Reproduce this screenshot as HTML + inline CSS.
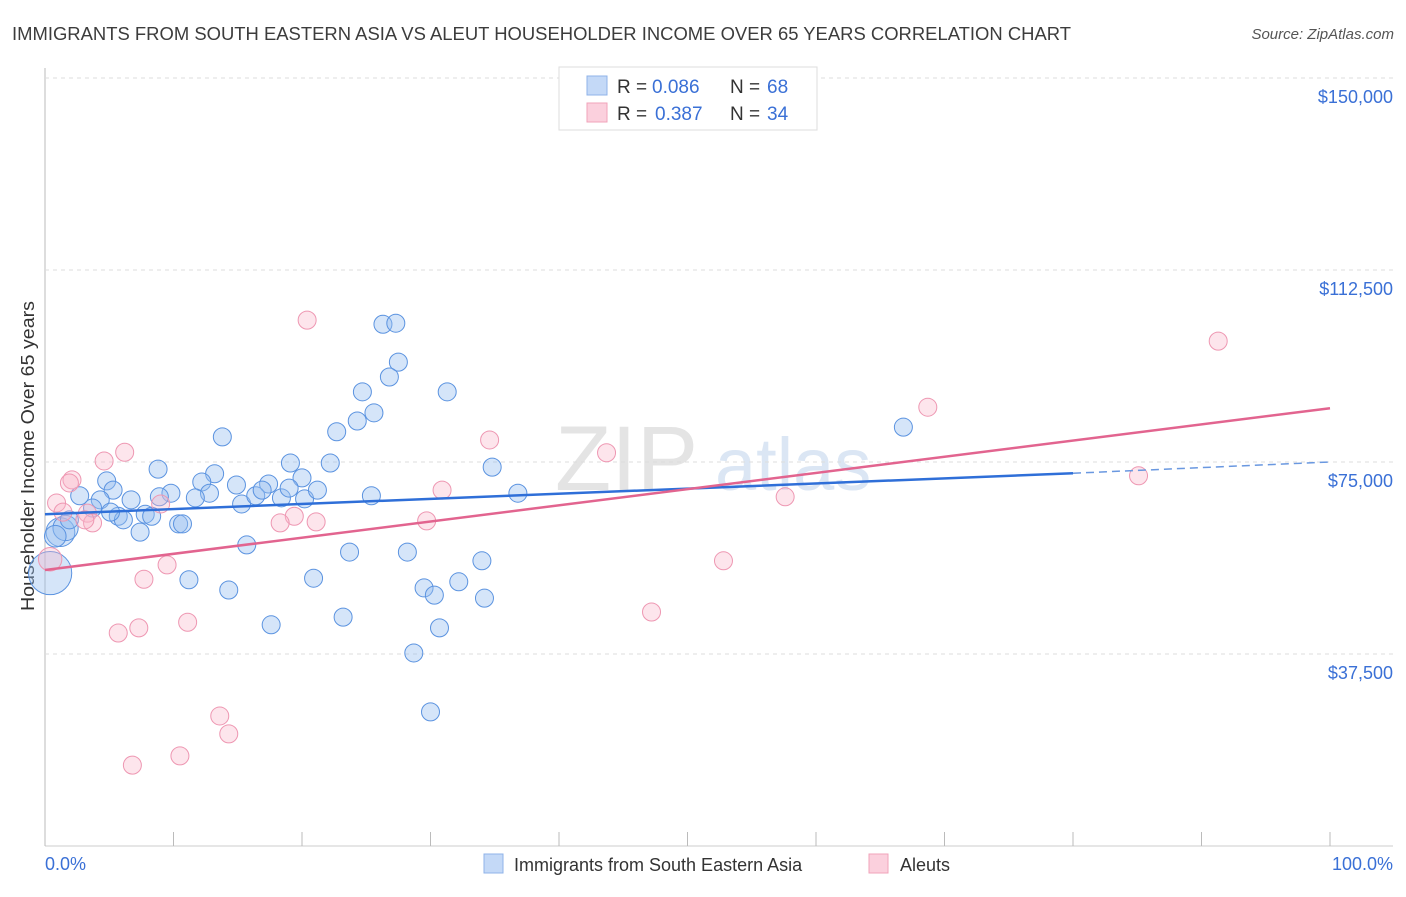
<!DOCTYPE html>
<html><head><meta charset="utf-8"><style>
body{margin:0;background:#fff;font-family:"Liberation Sans",sans-serif}
svg text{font-family:"Liberation Sans",sans-serif}
</style></head><body>
<svg id="c" width="1406" height="892">
<text x="12" y="40" font-size="18" textLength="1059" lengthAdjust="spacingAndGlyphs" fill="#3c3c3c">IMMIGRANTS FROM SOUTH EASTERN ASIA VS ALEUT HOUSEHOLDER INCOME OVER 65 YEARS CORRELATION CHART</text>
<text x="1394" y="39" font-size="15" font-style="italic" fill="#555" text-anchor="end">Source: ZipAtlas.com</text>
<g><text x="555" y="490" font-size="92" fill="#e4e4e4" font-family="Liberation Serif">ZIP</text><text x="715" y="490" font-size="74" fill="#dbe6f4">atlas</text></g>
<text transform="translate(34,456) rotate(-90)" font-size="18" textLength="310" lengthAdjust="spacingAndGlyphs" fill="#333" text-anchor="middle">Householder Income Over 65 years</text>
<g id="grid"></g><g id="pts"></g><g id="trend"></g>
<g>
<rect x="559" y="67" width="258" height="63" fill="#fff" stroke="#ddd"/>
<rect x="587" y="76" width="20" height="19" fill="#c4d9f7" stroke="#8fb3e8"/>
<rect x="587" y="103" width="20" height="19" fill="#fbd0dd" stroke="#f0a3ba"/>
<text x="617" y="93" font-size="19" fill="#333">R =</text><text x="652" y="93" font-size="19" fill="#3a70d6">0.086</text>
<text x="730" y="93" font-size="19" fill="#333">N =</text><text x="767" y="93" font-size="19" fill="#3a70d6">68</text>
<text x="617" y="120" font-size="19" fill="#333">R =</text><text x="655" y="120" font-size="19" fill="#3a70d6">0.387</text>
<text x="730" y="120" font-size="19" fill="#333">N =</text><text x="767" y="120" font-size="19" fill="#3a70d6">34</text>
</g>
<g>
<rect x="484" y="854" width="19" height="19" fill="#c4d9f7" stroke="#8fb3e8"/>
<text x="514" y="871" font-size="18" fill="#333">Immigrants from South Eastern Asia</text>
<rect x="869" y="854" width="19" height="19" fill="#fbd0dd" stroke="#f0a3ba"/>
<text x="900" y="871" font-size="18" fill="#333">Aleuts</text>
</g>
<text x="45" y="870" font-size="18" fill="#3a70d6">0.0%</text>
<text x="1393" y="870" font-size="18" fill="#3a70d6" text-anchor="end">100.0%</text>
</svg>
<script>
const yTicks=[37500,75000,112500,150000];
const yTickLabels=["$37,500","$75,000","$112,500","$150,000"];
const blueX=[26.3,27.3,27.5,26.8,24.7,31.3,24.3,25.6,13.8,22.7,34.8,8.8,22.2,19.1,13.2,20.0,12.2,14.9,17.4,12.8,9.8,11.7,4.8,5.3,2.7,4.3,6.7,8.9,3.7,7.8,8.3,5.7,6.1,7.4,10.4,10.7,15.3,16.4,16.9,18.4,19.0,20.2,21.2,25.4,36.8,66.8,1.2,0.4,1.6,0.8,15.7,23.7,28.2,34.0,11.2,20.9,32.2,14.3,29.5,30.3,34.2,23.2,17.6,30.7,28.7,30.0,5.1,1.9];
const blueY=[101.9,102.1,94.5,91.6,88.7,88.7,83.0,84.6,79.9,80.9,74.0,73.6,74.8,74.8,72.7,71.9,71.1,70.5,70.7,68.9,68.9,68.0,71.3,69.5,68.4,67.6,67.6,68.2,66.0,64.8,64.4,64.4,63.7,61.3,62.9,62.9,66.8,68.4,69.5,68.0,69.9,67.8,69.5,68.4,68.9,81.8,61.3,53.3,62.1,60.5,58.8,57.4,57.4,55.7,52.0,52.3,51.6,50.0,50.4,49.0,48.4,44.7,43.2,42.6,37.7,26.2,65.2,63.7];
const blueSize=[1,1,1,1,1,1,1,1,1,1,1,1,1,1,1,1,1,1,1,1,1,1,1,1,1,1,1,1,1,1,1,1,1,1,1,1,1,1,1,1,1,1,1,1,1,1,1.6,2.4,1.4,1.2,1,1,1,1,1,1,1,1,1,1,1,1,1,1,1,1,1,1];
const pinkX=[20.4,91.3,68.7,34.6,43.7,6.2,4.6,2.1,1.9,0.9,1.4,9.0,30.9,3.3,3.7,19.4,18.3,21.1,29.7,57.6,85.1,52.8,47.2,9.5,7.7,11.1,7.3,5.7,13.6,14.3,10.5,6.8,0.4,3.1];
const pinkY=[102.7,98.6,85.7,79.3,76.8,76.9,75.2,71.5,70.9,67.0,65.2,66.8,69.5,65.0,63.1,64.4,63.1,63.3,63.5,68.2,72.3,55.7,45.7,54.9,52.1,43.7,42.6,41.6,25.4,21.9,17.6,15.8,56.0,63.7];
const pinkSize=[1,1,1,1,1,1,1,1,1,1,1,1,1,1,1,1,1,1,1,1,1,1,1,1,1,1,1,1,1,1,1,1,1.3,1];
const blueTrend=[[0,64.8],[80,72.8],[100,75.0]];
const pinkTrend=[[0,53.9],[100,85.5]];
const NS="http://www.w3.org/2000/svg";
const X=v=>45+v*12.85, Y=v=>846-v*1000/195.3;
function mk(t,a,p){const e=document.createElementNS(NS,t);for(const k in a)e.setAttribute(k,a[k]);p.appendChild(e);return e;}
const grid=document.getElementById('grid');
let l=mk('line',{x1:45,y1:68,x2:45,y2:846,stroke:'#bbb'},grid);


l=mk('line',{x1:45,y1:846,x2:1393,y2:846,stroke:'#ccc'},grid);


for(let i=0;i<=10;i++){const t=mk('line',{x1:X(i*10),y1:832,x2:X(i*10),y2:846,stroke:'#bbb'},grid);

}
yTicks.forEach((v,i)=>{const y=Y(v/1000);
const g=mk('line',{x1:45,y1:y,x2:1393,y2:y,stroke:'#ddd','stroke-dasharray':'4,4'},grid);


const t=mk('text',{x:1393,y:y+25,'font-size':18,fill:'#3a70d6','text-anchor':'end'},grid);t.textContent=yTickLabels[i];

});
const pts=document.getElementById('pts');
blueX.forEach((x,i)=>{const c=mk('circle',{cx:X(x),cy:Y(blueY[i]),r:9*blueSize[i],fill:'rgba(150,190,240,0.4)',stroke:'#5b93e0','stroke-width':1},pts);

});
pinkX.forEach((x,i)=>{const c=mk('circle',{cx:X(x),cy:Y(pinkY[i]),r:9*pinkSize[i],fill:'rgba(248,180,200,0.35)',stroke:'#ee97b2','stroke-width':1},pts);

});
const tr=document.getElementById('trend');
let a=mk('line',{x1:X(blueTrend[0][0]),y1:Y(blueTrend[0][1]),x2:X(blueTrend[1][0]),y2:Y(blueTrend[1][1]),stroke:'#2f6fd8','stroke-width':2.5},tr);


a=mk('line',{x1:X(blueTrend[1][0]),y1:Y(blueTrend[1][1]),x2:X(blueTrend[2][0]),y2:Y(blueTrend[2][1]),stroke:'#6a98e0','stroke-width':1.5,'stroke-dasharray':'8,5'},tr);


a=mk('line',{x1:X(pinkTrend[0][0]),y1:Y(pinkTrend[0][1]),x2:X(pinkTrend[1][0]),y2:Y(pinkTrend[1][1]),stroke:'#e2648f','stroke-width':2.5},tr);


</script>
</body></html>
